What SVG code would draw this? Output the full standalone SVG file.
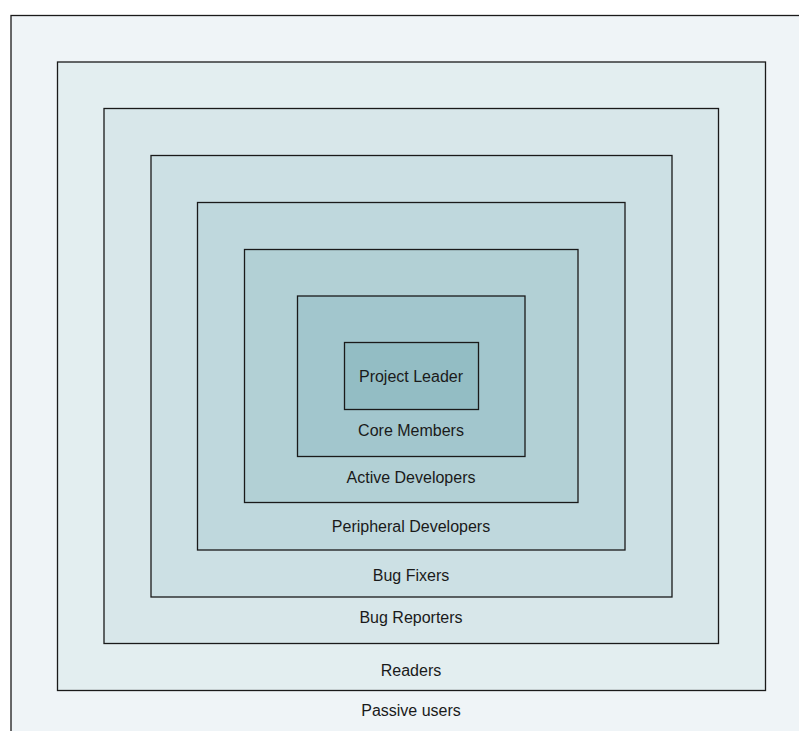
<svg xmlns="http://www.w3.org/2000/svg" width="799" height="731" viewBox="0 0 799 731">
<style>
rect{stroke:#1a1a1a;stroke-width:1.3}
text{font-family:"Liberation Sans",Arial,sans-serif;font-size:16px;fill:#1a1a1a;text-anchor:middle}
</style>
<rect x="0" y="0" width="799" height="731" fill="#ffffff" style="stroke:none"/>
<g id="passive-users"><rect x="11" y="15.5" width="801" height="722" fill="#eff4f7"/><text x="411" y="716">Passive users</text></g>
<g id="readers"><rect x="57.5" y="62" width="708" height="628.5" fill="#e3eef0"/><text x="411" y="676">Readers</text></g>
<g id="bug-reporters"><rect x="104" y="108.5" width="614.5" height="535" fill="#d8e7ea"/><text x="411" y="623">Bug Reporters</text></g>
<g id="bug-fixers"><rect x="151" y="155.5" width="521" height="441.5" fill="#cce0e4"/><text x="411" y="581">Bug Fixers</text></g>
<g id="peripheral-developers"><rect x="197.5" y="202.5" width="427.5" height="347.5" fill="#bfd8dd"/><text x="411" y="532">Peripheral Developers</text></g>
<g id="active-developers"><rect x="244.5" y="249.5" width="333.5" height="253" fill="#b2d0d5"/><text x="411" y="483">Active Developers</text></g>
<g id="core-members"><rect x="297.5" y="296" width="227.5" height="160.5" fill="#a2c6cd"/><text x="411" y="436">Core Members</text></g>
<g id="project-leader"><rect x="344.5" y="342.5" width="134" height="67" fill="#93bdc4"/><text x="411" y="382">Project Leader</text></g>
<g id="connectors"></g>
</svg>
